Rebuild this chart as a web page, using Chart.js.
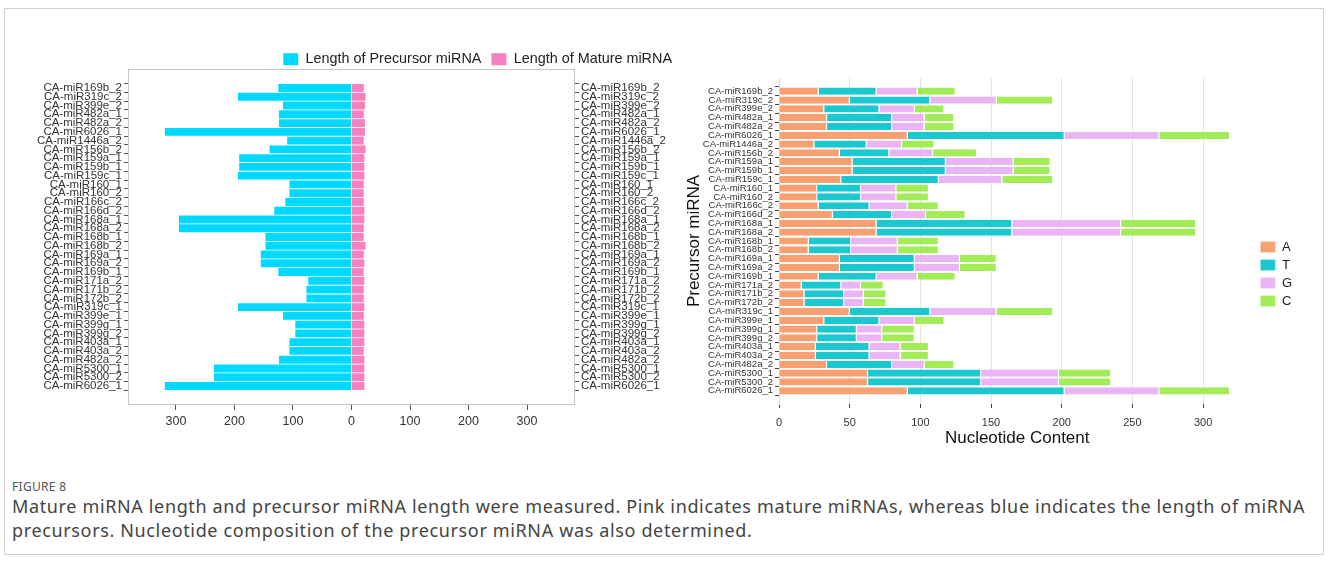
<!DOCTYPE html>
<html>
<head>
<meta charset="utf-8">
<script src="https://cdn.jsdelivr.net/npm/chart.js@4.4.0/dist/chart.umd.min.js"></script>
<style>
  body { margin: 0; width: 1328px; height: 562px; background: #fff; position: relative; overflow: hidden; }
  #frame { position: absolute; left: 4px; top: 8px; width: 1320px; height: 547px; border: 1px solid #cfcfcf; box-sizing: border-box; }
  #lenChart { position: absolute; left: 0; top: 0; }
  #ntChart { position: absolute; left: 680px; top: 40px; }
  #fig { position: absolute; left: 12px; top: 478px; font: 12px "Noto Sans", sans-serif; color: #555; letter-spacing: 0.3px; }
  #cap { position: absolute; left: 12px; top: 494px; font: 18px "Noto Sans", sans-serif; letter-spacing: 0.64px; line-height: 24px; color: #444; white-space: nowrap; }
</style>
</head>
<body>
<div id="frame"></div>
<canvas id="lenChart" width="700" height="450"></canvas>
<canvas id="ntChart" width="648" height="420"></canvas>
<div id="fig">FIGURE 8</div>
<div id="cap">Mature miRNA length and precursor miRNA length were measured. Pink indicates mature miRNAs, whereas blue indicates the length of miRNA<br>precursors. Nucleotide composition of the precursor miRNA was also determined.</div>
<script>
// miRNA names (top to bottom)
var mirnas = ['CA-miR169b_2', 'CA-miR319c_2', 'CA-miR399e_2', 'CA-miR482a_1', 'CA-miR482a_2',
    'CA-miR6026_1', 'CA-miR1446a_2', 'CA-miR156b_2', 'CA-miR159a_1', 'CA-miR159b_1',
    'CA-miR159c_1', 'CA-miR160_1', 'CA-miR160_2', 'CA-miR166c_2', 'CA-miR166d_2',
    'CA-miR168a_1', 'CA-miR168a_2', 'CA-miR168b_1', 'CA-miR168b_2', 'CA-miR169a_1',
    'CA-miR169a_2', 'CA-miR169b_1', 'CA-miR171a_2', 'CA-miR171b_2', 'CA-miR172b_2',
    'CA-miR319c_1', 'CA-miR399e_1', 'CA-miR399g_1', 'CA-miR399g_2', 'CA-miR403a_1',
    'CA-miR403a_2', 'CA-miR482a_2', 'CA-miR5300_1', 'CA-miR5300_2', 'CA-miR6026_1'];

// left panel: lengths
var precursorLen = [125, 194, 117, 124, 124, 319, 110, 140, 192, 192, 194, 106, 106, 113, 132, 295, 295, 147,
    147, 155, 155, 125, 74, 77, 77, 194, 117, 96, 96, 106, 106, 124, 235, 235, 319];
var matureLen = [21, 24, 23, 21, 23, 23, 21, 24, 22, 22, 22, 21, 21, 21, 22, 22, 21, 21,
    24, 21, 22, 21, 22, 21, 21, 22, 21, 22, 22, 22, 21, 22, 22, 22, 22];

// right panel: nucleotide content
var ntA = [28, 50, 32, 34, 34, 91, 25, 43, 52, 52, 44, 27, 27, 28, 38, 69, 69, 21, 21, 43, 43, 28, 16, 18, 18, 50, 32, 27, 27, 26, 26, 34, 63, 63, 91];
var ntT = [41, 57, 39, 46, 46, 111, 37, 35, 66, 66, 69, 31, 31, 36, 42, 96, 96, 30, 30, 53, 53, 41, 28, 28, 28, 57, 39, 28, 28, 38, 38, 46, 80, 80, 111];
var ntG = [29, 47, 25, 23, 23, 67, 25, 31, 48, 48, 45, 25, 25, 27, 24, 77, 77, 33, 33, 32, 32, 29, 14, 14, 14, 47, 25, 18, 18, 22, 22, 23, 55, 55, 67];
var ntC = [27, 40, 21, 21, 21, 50, 23, 31, 26, 26, 36, 23, 23, 22, 28, 53, 53, 29, 29, 26, 26, 27, 16, 16, 16, 40, 21, 23, 23, 20, 20, 21, 37, 37, 50];

Chart.defaults.font.family = 'Liberation Sans';
Chart.defaults.color = '#333';

// extra room above first / below last category, like ggplot's expansion
function expandCat(extra) {
    return function (scale) {
        scale._startValue -= extra;
        scale._valueRange += 2 * extra;
    };
}

var boxPlugin = {
    id: 'box',
    afterDraw: function (chart) {
        var a = chart.chartArea, ctx = chart.ctx;
        ctx.save();
        ctx.strokeStyle = '#c6c6c6';
        ctx.lineWidth = 1;
        ctx.strokeRect(a.left + 0.5, a.top + 0.5, a.width - 1, a.height - 1);
        ctx.restore();
    }
};

var tickFontL = { size: 11.5 };

new Chart('lenChart', {
    type: 'bar',
    data: {
        labels: mirnas,
        datasets: [{
            label: 'Length of Precursor miRNA',
            data: precursorLen.map(function (v) { return -v; }),
            backgroundColor: '#00D9FF',
            barPercentage: 1,
            categoryPercentage: 0.9
        }, {
            label: 'Length of Mature miRNA',
            data: matureLen,
            backgroundColor: '#F780BE',
            barPercentage: 1,
            categoryPercentage: 0.9
        }]
    },
    options: {
        indexAxis: 'y',
        responsive: false,
        animation: false,
        layout: { padding: { left: 20, right: 18, top: 42, bottom: 17 } },
        plugins: {
            legend: {
                align: 'end',
                maxHeight: 27,
                labels: { boxWidth: 15, boxHeight: 12, padding: 10, color: '#222', font: { size: 14.4 } }
            },
            tooltip: { enabled: false }
        },
        scales: {
            x: {
                stacked: true,
                min: -382,
                max: 382,
                ticks: {
                    stepSize: 100,
                    includeBounds: false,
                    font: { size: 12.5 },
                    padding: 4,
                    callback: function (v) { return Math.abs(v); }
                },
                grid: { drawOnChartArea: false, tickLength: 5, tickColor: '#555' },
                border: { display: false }
            },
            y: {
                stacked: true,
                afterBuildTicks: expandCat(1.67),
                afterFit: function (s) { s.width = 108; },
                ticks: { autoSkip: false, font: tickFontL, color: '#333', padding: 2 },
                grid: { drawOnChartArea: false, tickLength: 4, tickColor: '#555' },
                border: { display: false }
            },
            y2: {
                type: 'category',
                position: 'right',
                labels: mirnas,
                afterBuildTicks: expandCat(1.67),
                afterFit: function (s) { s.width = 107; },
                ticks: { autoSkip: false, font: tickFontL, color: '#333', padding: 2 },
                grid: { drawOnChartArea: false, tickLength: 4, tickColor: '#555' },
                border: { display: false }
            }
        }
    },
    plugins: [boxPlugin]
});

function ntSet(label, data, color) {
    return {
        label: label,
        data: data,
        backgroundColor: color,
        borderColor: '#ffffff',
        borderWidth: { top: 0, bottom: 0, left: 0, right: 1 },
        borderSkipped: false,
        barPercentage: 1,
        categoryPercentage: 0.82
    };
}

new Chart('ntChart', {
    type: 'bar',
    data: {
        labels: mirnas,
        datasets: [
            ntSet('A', ntA, '#F8A072'),
            ntSet('T', ntT, '#1BC8D0'),
            ntSet('G', ntG, '#EBB4F5'),
            ntSet('C', ntC, '#A2EC58')
        ]
    },
    options: {
        indexAxis: 'y',
        responsive: false,
        animation: false,
        layout: { padding: { left: 0, right: 26, top: 38, bottom: 11 } },
        plugins: {
            legend: {
                position: 'right',
                title: { display: true, text: ' ', font: { size: 1 }, padding: { top: 20, bottom: 0 } },
                labels: { boxWidth: 15, boxHeight: 11, padding: 5, color: '#222', font: { size: 13 } }
            },
            tooltip: { enabled: false }
        },
        scales: {
            x: {
                stacked: true,
                min: 0,
                max: 337,
                afterFit: function (s) { s.height = 45; },
                ticks: { stepSize: 50, includeBounds: false, font: { size: 11 }, color: '#333', padding: 8 },
                grid: { color: '#e4e4e4', tickLength: 4, tickColor: '#444' },
                border: { display: false },
                title: { display: true, text: 'Nucleotide Content', color: '#111', font: { size: 17 }, padding: 0 }
            },
            y: {
                stacked: true,
                afterBuildTicks: expandCat(1.0),
                afterFit: function (s) { s.width = 99; },
                ticks: { autoSkip: false, font: { size: 9.5 }, color: '#333', padding: 2 },
                grid: { drawOnChartArea: false, tickLength: 4, tickColor: '#444' },
                border: { display: true, color: '#d9d9d9' },
                title: { display: true, text: 'Precursor miRNA', color: '#111', font: { size: 17 } }
            }
        }
    }
});
</script>
</body>
</html>
